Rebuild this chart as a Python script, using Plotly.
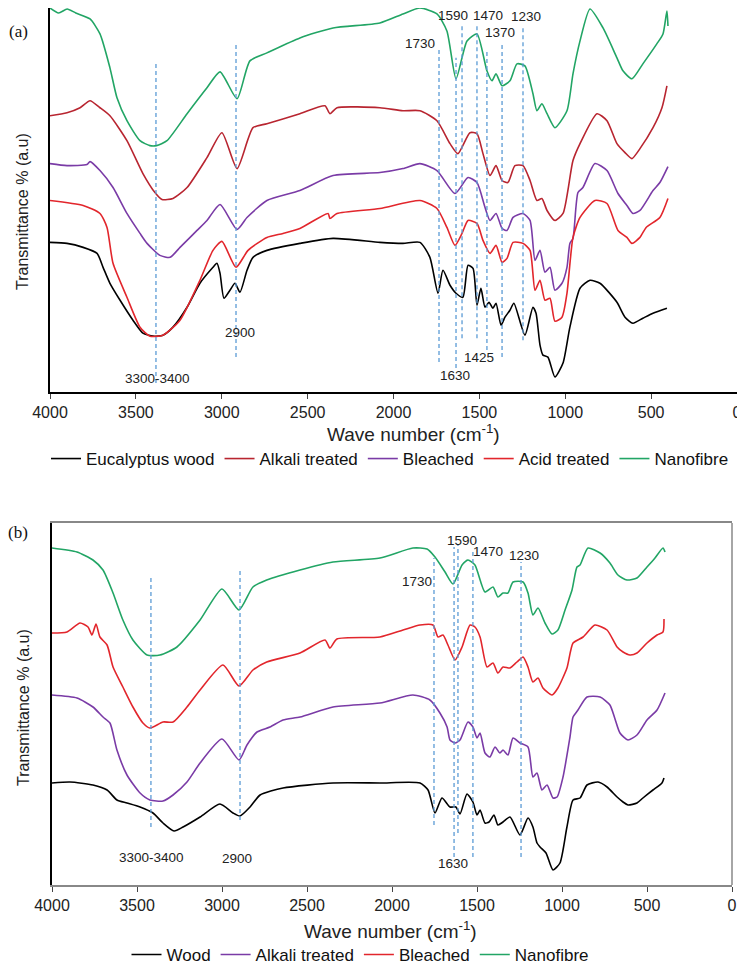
import plotly.graph_objects as go

# ---------------- panel (a) ----------------
a_wood_wn = [4000, 3901, 3807, 3726, 3691, 3651, 3592, 3517, 3459, 3400, 3342, 3284, 3202, 3127, 3051, 3028,
             3010, 2987, 2952, 2923, 2894, 2853, 2818, 2737, 2545, 2352, 2079, 1945, 1846, 1788, 1741, 1712,
             1671, 1636, 1596, 1566, 1537, 1514, 1491, 1467, 1444, 1421, 1403, 1374, 1351, 1322, 1299, 1235,
             1188, 1170, 1147, 1130, 1101, 1060, 1013, 973, 914, 856, 798, 699, 652, 606, 548, 489, 408]
a_wood_t = [150, 149, 145, 139, 125, 109, 92, 72, 59, 56, 57, 65, 85, 109, 125, 129,
            119, 94, 102, 109, 100, 122, 135, 142, 149, 154, 150, 149, 150, 135, 99, 122,
            107, 99, 95, 127, 124, 87, 104, 85, 90, 84, 89, 67, 75, 82, 89, 57,
            85, 79, 47, 37, 35, 15, 29, 65, 104, 112, 109, 90, 75, 69, 74, 79, 84]

a_alk_wn = [4000, 3901, 3825, 3767, 3709, 3651, 3552, 3459, 3389, 3348, 3284, 3202, 3086, 2999, 2911, 2818,
            2737, 2545, 2399, 2370, 2329, 2079, 1945, 1846, 1747, 1671, 1625, 1555, 1514, 1479, 1438, 1403,
            1368, 1334, 1293, 1246, 1205, 1165, 1136, 1106, 1060, 1013, 955, 914, 815, 757, 699, 652,
            612, 565, 489, 437, 408]
a_alk_t = [277, 280, 285, 292, 285, 277, 252, 219, 200, 193, 194, 205, 235, 260, 224, 265,
           269, 279, 287, 279, 285, 285, 282, 282, 272, 249, 239, 260, 259, 239, 217, 227,
           212, 210, 227, 227, 212, 192, 194, 182, 172, 179, 232, 249, 279, 272, 249, 240,
           234, 244, 265, 285, 307]

a_ble_wn = [4000, 3901, 3785, 3767, 3709, 3633, 3552, 3476, 3435, 3360, 3301, 3243, 3202, 3144, 3086, 3010,
            2911, 2853, 2737, 2545, 2352, 2079, 1945, 1846, 1747, 1642, 1566, 1514, 1467, 1438, 1403, 1368,
            1339, 1304, 1246, 1205, 1176, 1147, 1118, 1089, 1060, 1019, 990, 973, 955, 926, 897, 827,
            757, 693, 641, 606, 565, 489, 449, 402]
a_ble_t = [229, 227, 228, 231, 222, 205, 179, 159, 149, 137, 135, 145, 152, 162, 172, 188,
           163, 175, 192, 202, 217, 220, 224, 229, 222, 199, 215, 210, 185, 172, 179, 164,
           162, 175, 179, 172, 132, 142, 120, 125, 102, 109, 125, 149, 154, 200, 205, 229,
           222, 199, 187, 179, 182, 202, 210, 226]

a_acid_wn = [4000, 3807, 3709, 3668, 3633, 3552, 3476, 3418, 3342, 3243, 3127, 3051, 2999, 2917, 2847, 2737,
             2643, 2545, 2381, 2370, 2329, 2079, 1846, 1747, 1689, 1642, 1601, 1566, 1514, 1479, 1438, 1403,
             1368, 1339, 1304, 1246, 1205, 1176, 1147, 1118, 1089, 1060, 1019, 990, 955, 914, 827, 757,
             693, 641, 612, 565, 529, 449, 402]
a_acid_t = [192, 187, 179, 165, 129, 95, 65, 56, 57, 72, 112, 142, 151, 125, 142, 155,
            159, 164, 179, 174, 179, 184, 192, 184, 165, 147, 159, 172, 169, 152, 139, 147,
            130, 134, 150, 149, 142, 102, 112, 92, 94, 71, 75, 99, 155, 175, 192, 189,
            162, 155, 149, 155, 165, 175, 194]

a_nano_wn = [4000, 3950, 3900, 3850, 3767, 3709, 3651, 3610, 3552, 3476, 3418, 3380, 3319, 3202, 3086, 3010,
             2911, 2836, 2737, 2545, 2352, 2079, 1945, 1846, 1747, 1689, 1636, 1572, 1514, 1456, 1427, 1403,
             1368, 1322, 1281, 1235, 1188, 1165, 1136, 1106, 1060, 990, 955, 914, 856, 780, 699, 664,
             612, 548, 467, 431, 408, 402]
a_nano_t = [385, 380, 384, 380, 374, 359, 325, 295, 272, 252, 247, 247, 252, 279, 305, 321,
            294, 332, 340, 355, 365, 370, 379, 385, 379, 362, 314, 352, 359, 322, 312, 319,
            307, 312, 329, 327, 299, 282, 289, 279, 265, 282, 319, 352, 384, 365, 335, 322,
            314, 329, 349, 359, 382, 367]

a_mark_wn = [3383, 2917, 1735, 1636, 1601, 1514, 1456, 1368, 1246]
a_mark_top = [331, 350, 345, 335, 367, 367, 344, 349, 366]
a_mark_bot = [9, 35, 30, 24, 54, 54, 42, 35, 52]

a_lab_text = ["3300-3400", "2900", "1730", "1630", "1590", "1470", "1425", "1370", "1230"]
a_lab_wn = [3377, 2894, 1846, 1642, 1654, 1450, 1502, 1380, 1229]
a_lab_t = [14, 60, 349, 17, 377, 377, 35, 360, 376]

# ---------------- panel (b) ----------------
b_wood_wn = [4000, 3894, 3759, 3676, 3618, 3559, 3482, 3406, 3347, 3282, 3229, 3129, 3012, 2935, 2894, 2835,
             2776, 2641, 2347, 2071, 1835, 1788, 1747, 1706, 1659, 1624, 1600, 1559, 1524, 1500, 1482, 1453,
             1429, 1400, 1377, 1347, 1306, 1247, 1200, 1171, 1147, 1129, 1094, 1053, 1012, 971, 935, 894,
             853, 788, 735, 676, 641, 612, 559, 524, 465, 412, 400]
b_wood_t = [102, 103, 100, 95, 85, 82, 78, 72, 62, 54, 58, 68, 81, 72, 69, 78,
            90, 97, 102, 102, 102, 95, 72, 87, 78, 78, 71, 91, 83, 70, 75, 62,
            63, 70, 60, 63, 68, 50, 67, 58, 42, 38, 32, 15, 22, 58, 85, 87,
            100, 103, 98, 88, 83, 80, 82, 87, 95, 102, 107]

b_alk_wn = [4000, 3853, 3759, 3700, 3659, 3618, 3559, 3482, 3424, 3347, 3288, 3206, 3129, 3000, 2900, 2853,
            2794, 2718, 2641, 2541, 2347, 2071, 1877, 1777, 1718, 1676, 1659, 1629, 1600, 1553, 1524, 1500,
            1482, 1453, 1424, 1394, 1365, 1347, 1318, 1288, 1247, 1200, 1171, 1147, 1118, 1088, 1053, 1029,
            994, 953, 935, 906, 853, 776, 718, 690, 659, 612, 559, 500, 441, 394]
b_alk_t = [190, 187, 178, 168, 162, 135, 110, 92, 85, 84, 90, 103, 122, 146, 125, 140,
           153, 158, 165, 168, 178, 182, 190, 185, 172, 158, 145, 142, 145, 163, 158, 147,
           152, 132, 128, 138, 132, 135, 130, 147, 142, 138, 108, 112, 95, 100, 87, 88,
           108, 148, 168, 175, 188, 188, 180, 167, 152, 145, 150, 165, 175, 192]

b_ble_wn = [4000, 3912, 3835, 3788, 3765, 3741, 3718, 3676, 3641, 3583, 3524, 3465, 3424, 3347, 3288, 3206,
            3129, 2994, 2900, 2818, 2737, 2541, 2394, 2365, 2324, 2071, 1935, 1835, 1759, 1729, 1700, 1671,
            1629, 1588, 1541, 1512, 1482, 1441, 1406, 1377, 1347, 1306, 1265, 1229, 1200, 1171, 1141, 1112,
            1059, 1024, 971, 935, 876, 806, 735, 676, 641, 600, 559, 500, 441, 406, 400]
b_ble_t = [252, 253, 262, 258, 250, 261, 248, 240, 218, 198, 178, 162, 157, 163, 163, 178,
           195, 220, 199, 215, 223, 232, 245, 237, 246, 248, 255, 260, 260, 248, 250, 240,
           225, 238, 260, 258, 248, 218, 222, 212, 218, 217, 223, 228, 218, 203, 207, 197,
           190, 197, 217, 242, 248, 260, 255, 238, 233, 230, 232, 242, 250, 253, 266]

b_nano_wn = [4000, 3853, 3759, 3700, 3641, 3583, 3524, 3441, 3365, 3265, 3129, 3000, 2900, 2818, 2737, 2541,
             2347, 2071, 1877, 1794, 1747, 1688, 1641, 1588, 1553, 1512, 1453, 1406, 1377, 1347, 1318, 1288,
             1229, 1200, 1171, 1141, 1100, 1059, 1024, 982, 941, 912, 894, 847, 776, 718, 671, 618,
             559, 500, 453, 406, 394]
b_nano_t = [337, 333, 325, 315, 292, 265, 245, 230, 230, 238, 265, 296, 275, 298, 305, 315,
            323, 327, 337, 336, 328, 313, 301, 320, 325, 320, 293, 298, 288, 292, 292, 303,
            303, 292, 270, 277, 262, 251, 255, 275, 295, 318, 320, 337, 332, 322, 310, 305,
            307, 318, 327, 337, 333]

b_mark_wn = [3418, 2894, 1753, 1635, 1612, 1524, 1241]
b_mark_top = [308, 317, 327, 338, 340, 333, 323]
b_mark_bot = [58, 65, 60, 28, 52, 28, 28]

b_lab_text = ["3300-3400", "2900", "1730", "1630", "1590", "1470", "1230"]
b_lab_wn = [3412, 2912, 1853, 1641, 1588, 1435, 1224]
b_lab_t = [28, 27, 304, 22, 345, 334, 330]

x_ticks = [4000, 3500, 3000, 2500, 2000, 1500, 1000, 500, 0]

BLACK = "#000000"
DARKRED = "#B82530"
RED = "#E2262C"
PURPLE = "#7A3BA6"
GREEN = "#22A565"
DASH = "#5B9BD5"

fig = go.Figure()

panel_a = [("Eucalyptus wood", a_wood_wn, a_wood_t, BLACK),
           ("Alkali treated", a_alk_wn, a_alk_t, DARKRED),
           ("Bleached", a_ble_wn, a_ble_t, PURPLE),
           ("Acid treated", a_acid_wn, a_acid_t, RED),
           ("Nanofibre", a_nano_wn, a_nano_t, GREEN)]
for name, wn, t, col in panel_a:
    fig.add_trace(go.Scatter(x=wn, y=t, name=name, mode="lines",
                             line=dict(color=col, width=1.6, shape="spline", smoothing=0.6),
                             xaxis="x", yaxis="y", legend="legend"))

panel_b = [("Wood", b_wood_wn, b_wood_t, BLACK),
           ("Alkali treated", b_alk_wn, b_alk_t, PURPLE),
           ("Bleached", b_ble_wn, b_ble_t, RED),
           ("Nanofibre", b_nano_wn, b_nano_t, GREEN)]
for name, wn, t, col in panel_b:
    fig.add_trace(go.Scatter(x=wn, y=t, name=name, mode="lines",
                             line=dict(color=col, width=1.6, shape="spline", smoothing=0.6),
                             xaxis="x2", yaxis="y2", legend="legend2"))

# dashed marker lines
for wn, top, bot in zip(a_mark_wn, a_mark_top, a_mark_bot):
    fig.add_trace(go.Scatter(x=[wn, wn], y=[bot, top], mode="lines", showlegend=False, hoverinfo="skip",
                             line=dict(color=DASH, width=1.3, dash="4px,3px"), xaxis="x", yaxis="y"))
for wn, top, bot in zip(b_mark_wn, b_mark_top, b_mark_bot):
    fig.add_trace(go.Scatter(x=[wn, wn], y=[bot, top], mode="lines", showlegend=False, hoverinfo="skip",
                             line=dict(color=DASH, width=1.3, dash="4px,3px"), xaxis="x2", yaxis="y2"))

ann = []
for txt, wn, t in zip(a_lab_text, a_lab_wn, a_lab_t):
    ann.append(dict(x=wn, y=t, xref="x", yref="y", text=txt, showarrow=False,
                    xanchor="center", yanchor="middle", font=dict(size=13.5, color="#222")))
for txt, wn, t in zip(b_lab_text, b_lab_wn, b_lab_t):
    ann.append(dict(x=wn, y=t, xref="x2", yref="y2", text=txt, showarrow=False,
                    xanchor="center", yanchor="middle", font=dict(size=13.5, color="#222")))

# the page body adds an 8px margin, so the figure is 8px smaller than the window
OFF = 8
W, H = 745 - OFF, 969 - OFF


def px(x):
    return (x - OFF) / W


def py(y):
    return 1 - (y - OFF) / H


serif = dict(family="Liberation Serif, Times New Roman, serif", size=17, color="#111")
ann += [
    dict(x=px(18), y=py(32), text="(a)", font=serif),
    dict(x=px(18), y=py(532), text="(b)", font=serif),
    dict(x=px(23), y=py(212), text="Transmittance % (a.u)", textangle=-90,
         font=dict(size=16, color="#222")),
    dict(x=px(23), y=py(708), text="Transmittance % (a.u)", textangle=-90,
         font=dict(size=16, color="#222")),
    dict(x=px(413), y=py(433), text="Wave number (cm<sup>-1</sup>)", font=dict(size=19, color="#222")),
    dict(x=px(390), y=py(930), text="Wave number (cm<sup>-1</sup>)", font=dict(size=19, color="#222")),
]
for a in ann[-6:]:
    a.update(xref="paper", yref="paper", showarrow=False, xanchor="center", yanchor="middle")

axis_x = dict(range=[4000, 0], tickvals=x_ticks, ticks="outside", ticklen=5, showgrid=False,
              zeroline=False, showline=True, linewidth=1.5, automargin=False,
              tickfont=dict(size=16, color="#222"))
axis_y = dict(showticklabels=False, ticks="", showgrid=False, zeroline=False, showline=True,
              linecolor="black", linewidth=2, automargin=False)

fig.update_layout(
    width=W, height=H,
    margin=dict(l=0, r=0, t=0, b=0, autoexpand=False),
    paper_bgcolor="white", plot_bgcolor="white",
    font=dict(family="Arial, Liberation Sans, sans-serif", color="#222"),
    xaxis=dict(axis_x, domain=[px(50), px(737)], anchor="y", linecolor="black", mirror=True),
    yaxis=dict(axis_y, domain=[py(392), 1.0], anchor="x", range=[0, 385]),
    xaxis2=dict(axis_x, domain=[px(52), px(732)], anchor="y2", linecolor="#888", mirror=True),
    yaxis2=dict(axis_y, domain=[py(885), py(523)], anchor="x2", range=[0, 362]),
    legend=dict(orientation="h", x=px(390), y=py(459), xanchor="center", yanchor="middle",
                font=dict(size=17, color="#111"), itemwidth=30, tracegroupgap=0),
    legend2=dict(orientation="h", x=px(360), y=py(955), xanchor="center", yanchor="middle",
                 font=dict(size=17, color="#111"), itemwidth=30, tracegroupgap=0),
    annotations=ann,
    shapes=[dict(type="line", xref="paper", yref="paper", x0=px(732), x1=px(732),
                 y0=py(885), y1=py(523), line=dict(color="#888", width=1.5))],
    showlegend=True,
)

fig.write_html("out.html")
